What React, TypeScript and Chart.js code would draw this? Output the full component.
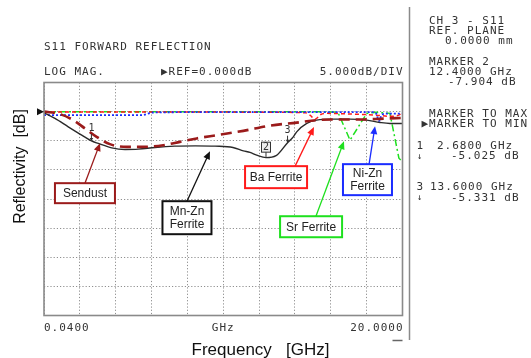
import React, { useEffect, useRef } from "react";
import { Chart, registerables } from "chart.js";

Chart.register(...registerables);

// ---------------- data ----------------
const freqMin = 0.04;
const freqMax = 20;
const dbMin = -35;
const dbMax = 5;
const dbStep = 5;
const xDivisions = 10;

const sendustFreq = [0.04, 0.93, 1.67, 2.32, 2.97, 3.71, 4.64, 5.57, 6.68, 7.61, 8.54, 9.66, 11.14, 12.62, 14.11, 15.22, 16.34, 17.82, 18.93, 20];
const sendustDb = [0, -0.43, -1.46, -2.89, -4.33, -5.58, -6.05, -6.05, -5.76, -5.19, -4.6, -4.04, -3.3, -2.4, -1.89, -1.46, -1.34, -1.34, -1.2, -1.08];

const mnznFreq = [0.04, 0.65, 1.39, 2.14, 2.68, 3.06, 3.81, 4.55, 5.29, 6.22, 7.33, 8.45, 9.56, 10.56, 11.14, 11.51, 11.88, 12.4, 12.96, 13.6, 13.92, 14.11, 14.67, 15.22, 16.15, 17.08, 18.01, 18.75, 19.3, 20];
const mnznDb = [-0.2, -1.17, -2.61, -4.04, -5.03, -5.46, -6.22, -6.49, -6.44, -6.15, -5.93, -5.88, -5.93, -6.15, -6.73, -7.01, -7.47, -7.9, -7.56, -5.33, -4.33, -3.47, -2.03, -1.46, -1.29, -1.29, -1.46, -1.86, -2.03, -2.03];

const baFreq = [0.04, 4, 8, 12, 14.6, 14.85, 15.13, 15.45, 15.8, 17, 18.5, 19.3, 19.8, 20];
const baDb = [-0.05, -0.05, -0.05, -0.1, -0.2, -0.6, -1.3, -0.5, -0.3, -0.4, -0.6, -0.8, -0.6, -0.2];

const srFreq = [0.04, 4, 8, 12, 16.2, 16.43, 17.08, 18.01, 18.5, 19.3, 19.8, 20];
const srDb = [0, 0, 0, 0, -0.05, -0.3, -4.9, -0.3, -0.1, -0.3, -8.0, -8.6];

const niznFreq = [0.04, 2, 4, 5.5, 6.1, 8, 10, 14, 18.3, 18.5, 18.7, 18.85, 19.2, 20];
const niznDb = [-0.6, -0.6, -0.6, -0.6, -0.15, -0.1, -0.1, -0.1, -0.1, -0.2, -1.6, -0.5, -0.35, -0.35];

const markerFreq = [2.68, 12.4, 13.6];
const markerDb = [-5.025, -7.904, -5.331];
const markerLabel = ["1", "2", "3"];

const annotationLines = [["Sendust"], ["Mn-Zn", "Ferrite"], ["Ba Ferrite"], ["Sr Ferrite"], ["Ni-Zn", "Ferrite"]];
const annotationBoxFreq = [2.32, 8.0, 12.96, 14.91, 18.05];
const annotationBoxDb = [-14.0, -18.21, -11.25, -19.76, -11.68];
const annotationTailFreq = [2.32, 8.0, 14.02, 15.18, 18.14];
const annotationTailDb = [-12.29, -15.38, -9.36, -17.96, -9.02];
const annotationTipFreq = [3.16, 9.28, 15.07, 16.74, 18.47];
const annotationTipDb = [-5.41, -6.79, -2.66, -5.07, -2.49];

const xTickLabels = ["0.0400", "GHz", "20.0000"];
const titleText = "S11 FORWARD REFLECTION";
const headerLeft = "LOG MAG.";
const headerMid = "▶REF=0.000dB";
const headerRight = "5.000dB/DIV";
const panelText = [
  "CH 3 - S11", "REF. PLANE", "0.0000 mm",
  "MARKER 2", "12.4000 GHz", "-7.904 dB",
  "MARKER TO MAX", "▶MARKER TO MIN",
  "1", "2.6800 GHz", "↓", "-5.025 dB",
  "3", "13.6000 GHz", "↓", "-5.331 dB",
];
const xAxisTitle = "Frequency   [GHz]";
const yAxisTitle = "Reflectivity  [dB]";

// ---------------- styles ----------------
const W = 531;
const H = 358;
const MONO = "'DejaVu Sans Mono', monospace";
const SANS = "'Liberation Sans', Arial, sans-serif";
const TEXT = "#333";
const FRAME = "#8a8a8a";

const seriesStyles = [
  { name: "Sendust", color: "#9b1b1b", width: 2.6, dash: [11, 6] },
  { name: "Mn-Zn Ferrite", color: "#2a2a2a", width: 1.4, dash: [] as number[] },
  { name: "Ni-Zn Ferrite", color: "#1a2cff", width: 1.8, dash: [2, 2] },
  { name: "Ba Ferrite", color: "#ff1a1a", width: 1.5, dash: [4, 3] },
  { name: "Sr Ferrite", color: "#1ee01e", width: 1.5, dash: [7, 3, 2, 3] },
];
const seriesData = [
  [sendustFreq, sendustDb],
  [mnznFreq, mnznDb],
  [niznFreq, niznDb],
  [baFreq, baDb],
  [srFreq, srDb],
];
const annotationColors = ["#9b1b1b", "#111", "#ff1a1a", "#1ee01e", "#1a2cff"];
const annotationSizes = [[60, 20], [49, 33], [62, 22], [62, 21], [49, 31]];

const panelPos = [
  [429, 21], [429, 31], [445, 41],
  [429, 62.5], [429, 72.5], [448, 82.5],
  [429, 113.7], [421.5, 124.3],
  [416.5, 146], [437, 146], [417, 156.5], [451, 156.5],
  [416.5, 187.5], [430, 187.5], [417, 198], [451, 198],
];

function drawArrow(ctx: CanvasRenderingContext2D, x1: number, y1: number, x2: number, y2: number, color: string) {
  const a = Math.atan2(y2 - y1, x2 - x1);
  const L = 8;
  const Wd = 3.5;
  ctx.save();
  ctx.setLineDash([]);
  ctx.strokeStyle = color;
  ctx.fillStyle = color;
  ctx.lineWidth = 1.3;
  ctx.beginPath();
  ctx.moveTo(x1, y1);
  ctx.lineTo(x2 - L * 0.8 * Math.cos(a), y2 - L * 0.8 * Math.sin(a));
  ctx.stroke();
  ctx.beginPath();
  ctx.moveTo(x2, y2);
  ctx.lineTo(x2 - L * Math.cos(a) + Wd * Math.sin(a), y2 - L * Math.sin(a) - Wd * Math.cos(a));
  ctx.lineTo(x2 - L * Math.cos(a) - Wd * Math.sin(a), y2 - L * Math.sin(a) + Wd * Math.cos(a));
  ctx.closePath();
  ctx.fill();
  ctx.restore();
}

function monoText(ctx: any, s: string, x: number, y: number, align: CanvasTextAlign = "left") {
  ctx.font = `11px ${MONO}`;
  ctx.letterSpacing = "1px";
  ctx.fillStyle = TEXT;
  ctx.textAlign = align;
  ctx.textBaseline = "middle";
  ctx.fillText(s, x, y);
  ctx.letterSpacing = "0px";
}

const overlayPlugin = {
  id: "overlay",
  beforeDraw(chart: any) {
    const ctx = chart.ctx;
    ctx.save();
    ctx.fillStyle = "#fff";
    ctx.fillRect(0, 0, chart.width, chart.height);
    ctx.restore();
  },
  afterDatasetsDraw(chart: any) {
    const ctx: CanvasRenderingContext2D = chart.ctx;
    const xs = chart.scales.x;
    const ys = chart.scales.y;
    const { left, right, top, bottom } = chart.chartArea;
    ctx.save();
    // frame
    ctx.setLineDash([]);
    ctx.strokeStyle = FRAME;
    ctx.lineWidth = 1.6;
    ctx.strokeRect(left, top, right - left, bottom - top);
    // reference triangle
    const yRef = ys.getPixelForValue(0);
    ctx.fillStyle = "#111";
    ctx.beginPath();
    ctx.moveTo(left - 7, yRef - 3.5);
    ctx.lineTo(left - 7, yRef + 3.5);
    ctx.lineTo(left, yRef);
    ctx.closePath();
    ctx.fill();

    // markers
    for (let i = 0; i < markerFreq.length; i++) {
      const px = xs.getPixelForValue(markerFreq[i]);
      const py = ys.getPixelForValue(markerDb[i]);
      ctx.strokeStyle = "#333";
      ctx.fillStyle = "#333";
      ctx.lineWidth = 1;
      ctx.font = `10px ${MONO}`;
      ctx.textAlign = "center";
      ctx.textBaseline = "middle";
      if (markerLabel[i] === "2") {
        ctx.fillStyle = "#eee";
        ctx.fillRect(px - 4.5, py - 15.5, 9, 10);
        ctx.strokeRect(px - 4.5, py - 15.5, 9, 10);
        ctx.fillStyle = "#333";
        ctx.fillText(markerLabel[i], px, py - 10.5);
        ctx.beginPath();
        ctx.moveTo(px, py - 5.5);
        ctx.lineTo(px, py);
        ctx.stroke();
      } else {
        ctx.fillText(markerLabel[i], px, py - 12);
        ctx.beginPath();
        ctx.moveTo(px, py - 7);
        ctx.lineTo(px, py - 1);
        ctx.stroke();
        ctx.beginPath();
        ctx.moveTo(px - 1.8, py - 3);
        ctx.lineTo(px + 1.8, py - 3);
        ctx.lineTo(px, py);
        ctx.closePath();
        ctx.fill();
      }
    }

    // annotations
    for (let i = 0; i < annotationLines.length; i++) {
      const color = annotationColors[i];
      const tx = xs.getPixelForValue(annotationTailFreq[i]);
      const ty = ys.getPixelForValue(annotationTailDb[i]);
      const hx = xs.getPixelForValue(annotationTipFreq[i]);
      const hy = ys.getPixelForValue(annotationTipDb[i]);
      drawArrow(ctx, tx, ty, hx, hy, color);
      const cx = xs.getPixelForValue(annotationBoxFreq[i]);
      const cy = ys.getPixelForValue(annotationBoxDb[i]);
      const [bw, bh] = annotationSizes[i];
      ctx.fillStyle = "#fff";
      ctx.fillRect(cx - bw / 2, cy - bh / 2, bw, bh);
      ctx.strokeStyle = color;
      ctx.lineWidth = 2;
      ctx.strokeRect(cx - bw / 2, cy - bh / 2, bw, bh);
      ctx.fillStyle = "#222";
      ctx.font = `12px ${SANS}`;
      ctx.textAlign = "center";
      ctx.textBaseline = "middle";
      const lines = annotationLines[i];
      const lh = 12.5;
      lines.forEach((t, k) => {
        ctx.fillText(t, cx, cy + (k - (lines.length - 1) / 2) * lh + 0.5);
      });
    }
    ctx.restore();
  },
  afterDraw(chart: any) {
    const ctx: any = chart.ctx;
    const { left, right } = chart.chartArea;
    ctx.save();
    // header texts
    monoText(ctx, titleText, left, 47);
    monoText(ctx, headerLeft, left, 72);
    monoText(ctx, headerMid, 161, 72);
    monoText(ctx, headerRight, right + 1, 72, "right");
    // right panel
    panelText.forEach((t, i) => {
      const [x, y] = panelPos[i];
      if (t === "↓") {
        ctx.font = `9px ${MONO}`;
        ctx.fillStyle = TEXT;
        ctx.textAlign = "left";
        ctx.textBaseline = "middle";
        ctx.fillText(t, x, y);
      } else {
        monoText(ctx, t, x, y);
      }
    });
    // divider
    ctx.strokeStyle = FRAME;
    ctx.lineWidth = 1.5;
    ctx.setLineDash([]);
    ctx.beginPath();
    ctx.moveTo(409.5, 7);
    ctx.lineTo(409.5, 340);
    ctx.stroke();
    // x tick labels
    monoText(ctx, xTickLabels[0], left, 328);
    monoText(ctx, xTickLabels[1], (left + right) / 2, 328, "center");
    monoText(ctx, xTickLabels[2], right + 1, 328, "right");
    ctx.strokeStyle = "#666";
    ctx.lineWidth = 1.5;
    ctx.beginPath();
    ctx.moveTo(right - 10, 340.5);
    ctx.lineTo(right, 340.5);
    ctx.stroke();
    // axis titles
    ctx.fillStyle = "#111";
    ctx.font = `17px ${SANS}`;
    ctx.textAlign = "center";
    ctx.textBaseline = "middle";
    ctx.fillText(xAxisTitle, 260.5, 350);
    ctx.save();
    ctx.translate(20.5, 166.5);
    ctx.rotate(-Math.PI / 2);
    ctx.font = `16px ${SANS}`;
    ctx.fillText(yAxisTitle, 0, 0);
    ctx.restore();
    ctx.restore();
  },
};

export default function App() {
  const canvasRef = useRef<HTMLCanvasElement | null>(null);

  useEffect(() => {
    if (!canvasRef.current) return;
    const step = (freqMax - freqMin) / xDivisions;
    const xGrid = Array.from({ length: xDivisions + 1 }, (_, i) => freqMin + i * step);
    const datasets = seriesStyles.map((s, i) => {
      const [fs, ds] = seriesData[i];
      return {
        label: s.name,
        data: fs.map((f, k) => ({ x: f, y: ds[k] })),
        borderColor: s.color,
        backgroundColor: s.color,
        borderWidth: s.width,
        borderDash: s.dash,
        pointRadius: 0,
        fill: false,
        cubicInterpolationMode: s.name === "Sr Ferrite" ? "default" : "monotone",
        tension: s.name === "Sr Ferrite" ? 0 : 0.4,
      };
    });
    const chart = new Chart(canvasRef.current, {
      type: "line",
      data: { datasets } as any,
      plugins: [overlayPlugin as any],
      options: {
        responsive: false,
        animation: false,
        events: [],
        layout: { padding: { left: 44, right: 128.5, top: 82.5, bottom: 42.5 } },
        plugins: {
          legend: { display: false },
          tooltip: { enabled: false },
          title: { display: false },
        },
        scales: {
          x: {
            type: "linear",
            min: freqMin,
            max: freqMax,
            afterBuildTicks: (scale: any) => {
              scale.ticks = xGrid.map((v) => ({ value: v }));
            },
            ticks: { display: false },
            grid: { color: "#8f8f8f", lineWidth: 1, drawTicks: false },
            border: { display: false, dash: [1.2, 2] },
          },
          y: {
            type: "linear",
            min: dbMin,
            max: dbMax,
            ticks: { display: false, stepSize: dbStep },
            grid: { color: "#8f8f8f", lineWidth: 1, drawTicks: false },
            border: { display: false, dash: [1.2, 2] },
          },
        },
      } as any,
    });
    return () => chart.destroy();
  }, []);

  return (
    <div style={{ position: "absolute", left: 0, top: 0, width: W, height: H, background: "#fff" }}>
      <canvas ref={canvasRef} width={W} height={H} style={{ display: "block", width: W, height: H }} />
    </div>
  );
}
